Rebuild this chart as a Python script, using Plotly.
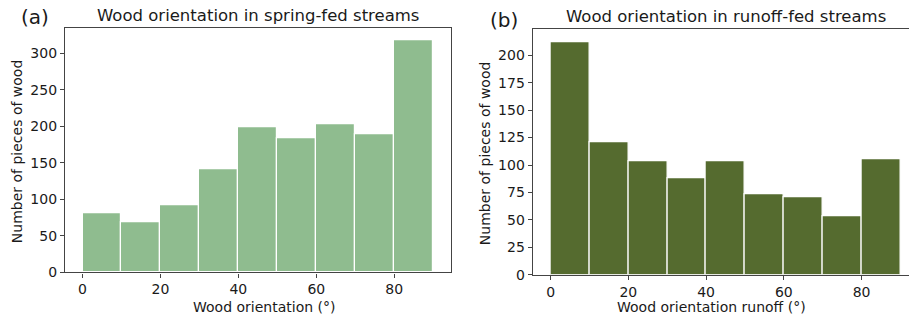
import plotly.graph_objects as go

bin_edges = [0, 10, 20, 30, 40, 50, 60, 70, 80, 90]
spring_counts = [81, 68, 92, 141, 199, 184, 203, 189, 318]
runoff_counts = [212, 121, 103, 88, 103, 73, 71, 53, 105]
x_ticks = [0, 20, 40, 60, 80]
spring_yticks = [0, 50, 100, 150, 200, 250, 300]
runoff_yticks = [0, 25, 50, 75, 100, 125, 150, 175, 200]

centers = [(a + b) / 2 for a, b in zip(bin_edges[:-1], bin_edges[1:])]
widths = [b - a for a, b in zip(bin_edges[:-1], bin_edges[1:])]

W, H = 909, 325
FONT = "DejaVu Sans"
TXT = "#1a1a1a"
SPINE = "#444444"

fig = go.Figure()
fig.add_trace(go.Bar(x=centers, y=spring_counts, width=widths, xaxis="x", yaxis="y",
                     marker=dict(color="#8FBC8F", line=dict(color="white", width=1.2)),
                     showlegend=False))
fig.add_trace(go.Bar(x=centers, y=runoff_counts, width=widths, xaxis="x2", yaxis="y2",
                     marker=dict(color="#556B2F", line=dict(color="white", width=1.2)),
                     showlegend=False))

def px_x(p):
    return p / W

def px_y(p):
    return 1 - p / H

axis_common = dict(showgrid=False, zeroline=False, showline=True, linecolor=SPINE, linewidth=1.2,
                   ticks="outside", ticklen=4, tickwidth=1, tickcolor=SPINE,
                   tickfont=dict(family=FONT, size=14, color=TXT))

x1_dom = [px_x(65), px_x(450.7)]
y1_dom = [px_y(279.3), px_y(29)]
x2_dom = [px_x(532.7), 1.0]
y2_dom = [px_y(281.7), px_y(30)]

x2_right = -4.6 + (909 - 532.7) / 3.888

fig.update_layout(
    width=W, height=H, margin=dict(l=0, r=0, t=0, b=0),
    paper_bgcolor="white", plot_bgcolor="white", bargap=0,
    xaxis=dict(domain=x1_dom, range=[-4.5, 94.5], tickvals=x_ticks, anchor="y", mirror=True, **axis_common),
    yaxis=dict(domain=y1_dom, range=[0, 333.9], tickvals=spring_yticks, anchor="x", mirror=True, **axis_common),
    xaxis2=dict(domain=x2_dom, range=[-4.6, x2_right], tickvals=x_ticks, anchor="y2", mirror=True, **axis_common),
    yaxis2=dict(domain=y2_dom, range=[0, 223.7], tickvals=runoff_yticks, anchor="x2", mirror=False, **axis_common),
)

anns = [
    dict(text="Wood orientation in spring-fed streams", x=px_x(257.8), y=px_y(16), size=16.5),
    dict(text="Wood orientation in runoff-fed streams", x=px_x(725.5), y=px_y(17), size=16.5),
    dict(text="(a)", x=px_x(35), y=px_y(17), size=20),
    dict(text="(b)", x=px_x(504), y=px_y(20), size=20),
    dict(text="Wood orientation (°)", x=px_x(264), y=px_y(314.5), size=14),
    dict(text="Wood orientation runoff (°)", x=px_x(711.7), y=px_y(314.5), size=14),
]
for a in anns:
    fig.add_annotation(text=a["text"], x=a["x"], y=a["y"], xref="paper", yref="paper",
                       xanchor="center", yanchor="middle", showarrow=False,
                       font=dict(family=FONT, size=a["size"], color=TXT))
for txt, x, y in [("Number of pieces of wood", 17, 155), ("Number of pieces of wood", 485, 157)]:
    fig.add_annotation(text=txt, x=px_x(x), y=px_y(y), xref="paper", yref="paper",
                       xanchor="center", yanchor="middle", showarrow=False, textangle=-90,
                       font=dict(family=FONT, size=14, color=TXT))

fig.write_html("out.html")
